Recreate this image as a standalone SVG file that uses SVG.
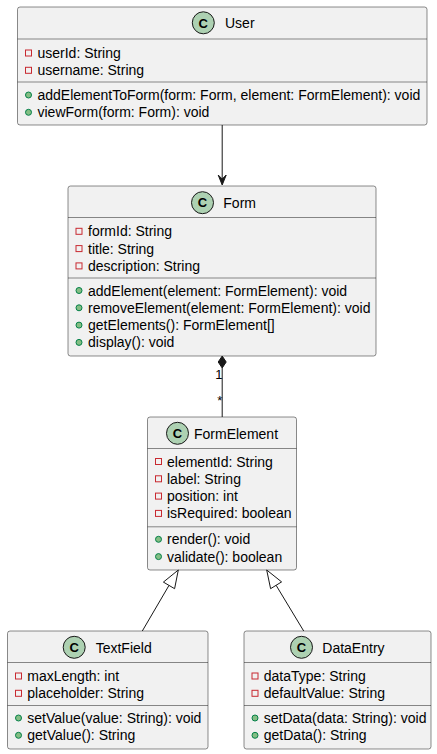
<svg xmlns="http://www.w3.org/2000/svg" width="437" height="754" viewBox="0 0 437 754">
<style>
.box{fill:#F1F1F1;stroke:#181818;stroke-width:0.5}
.sep{stroke:#181818;stroke-width:0.5}
.ci{fill:#ADD1B2;stroke:#181818;stroke-width:1}
.cl{font-family:"Liberation Sans",Arial,sans-serif;font-size:13px;font-weight:bold;fill:#000;text-anchor:middle}
.nm{font-family:"Liberation Sans",Arial,sans-serif;font-size:14px;fill:#000}
.t{font-family:"Liberation Sans",Arial,sans-serif;font-size:14px;fill:#000}
.pv{fill:none;stroke:#C82930;stroke-width:1}
.pb{fill:#84BE84;stroke:#038048;stroke-width:1}
.ln{stroke:#181818;stroke-width:1;fill:none}
.lb{font-family:"Liberation Sans",Arial,sans-serif;font-size:13px;fill:#000}
</style>
<g id="User">
<rect class="box" x="17.5" y="7" width="409.5" height="118" rx="2.5"/>
<circle class="ci" cx="203.3" cy="22.8" r="11"/>
<text class="cl" x="203.3" y="27.5">C</text>
<text class="nm" x="225" y="28.3">User</text>
<line class="sep" x1="17.5" y1="39" x2="427" y2="39"/>
<rect class="pv" x="25.5" y="50" width="6" height="6"/><text class="t" x="37.5" y="58">userId: String</text>
<rect class="pv" x="25.5" y="67.3" width="6" height="6"/><text class="t" x="37.5" y="75.3">username: String</text>
<line class="sep" x1="17.5" y1="82" x2="427" y2="82"/>
<circle class="pb" cx="28.5" cy="95" r="3"/><text class="t" x="37.5" y="100">addElementToForm(form: Form, element: FormElement): void</text>
<circle class="pb" cx="28.5" cy="112.3" r="3"/><text class="t" x="37.5" y="117.3">viewForm(form: Form): void</text>
</g>
<g id="Form">
<rect class="box" x="68" y="186" width="308" height="170" rx="2.5"/>
<circle class="ci" cx="202.5" cy="202.7" r="11"/>
<text class="cl" x="202.5" y="207.4">C</text>
<text class="nm" x="223.3" y="208">Form</text>
<line class="sep" x1="68" y1="217.5" x2="376" y2="217.5"/>
<rect class="pv" x="76" y="228.3" width="6" height="6"/><text class="t" x="88" y="236.3">formId: String</text>
<rect class="pv" x="76" y="245.6" width="6" height="6"/><text class="t" x="88" y="253.6">title: String</text>
<rect class="pv" x="76" y="262.9" width="6" height="6"/><text class="t" x="88" y="270.9">description: String</text>
<line class="sep" x1="68" y1="278" x2="376" y2="278"/>
<circle class="pb" cx="79" cy="290.5" r="3"/><text class="t" x="88" y="295.5">addElement(element: FormElement): void</text>
<circle class="pb" cx="79" cy="307.8" r="3"/><text class="t" x="88" y="312.8">removeElement(element: FormElement): void</text>
<circle class="pb" cx="79" cy="325.1" r="3"/><text class="t" x="88" y="330.1">getElements(): FormElement[]</text>
<circle class="pb" cx="79" cy="342.4" r="3"/><text class="t" x="88" y="347.4">display(): void</text>
</g>
<g id="FormElement">
<rect class="box" x="147.5" y="417" width="149" height="153" rx="2.5"/>
<circle class="ci" cx="177.5" cy="433.3" r="11"/>
<text class="cl" x="177.5" y="438">C</text>
<text class="nm" x="194" y="438.5">FormElement</text>
<line class="sep" x1="147.5" y1="448.5" x2="296.5" y2="448.5"/>
<rect class="pv" x="155.5" y="458.5" width="6" height="6"/><text class="t" x="167" y="466.5">elementId: String</text>
<rect class="pv" x="155.5" y="475.8" width="6" height="6"/><text class="t" x="167" y="483.8">label: String</text>
<rect class="pv" x="155.5" y="493.1" width="6" height="6"/><text class="t" x="167" y="501.1">position: int</text>
<rect class="pv" x="155.5" y="510.4" width="6" height="6"/><text class="t" x="167" y="518.4">isRequired: boolean</text>
<line class="sep" x1="147.5" y1="526.8" x2="296.5" y2="526.8"/>
<circle class="pb" cx="158.5" cy="539.3" r="3"/><text class="t" x="167" y="544.3">render(): void</text>
<circle class="pb" cx="158.5" cy="556.6" r="3"/><text class="t" x="167" y="561.6">validate(): boolean</text>
</g>
<g id="TextField">
<rect class="box" x="7.5" y="631" width="200.5" height="118" rx="2.5"/>
<circle class="ci" cx="74.2" cy="647.3" r="11"/>
<text class="cl" x="74.2" y="652">C</text>
<text class="nm" x="95.7" y="652.5">TextField</text>
<line class="sep" x1="7.5" y1="662.5" x2="208" y2="662.5"/>
<rect class="pv" x="15.5" y="673" width="6" height="6"/><text class="t" x="27.3" y="681">maxLength: int</text>
<rect class="pv" x="15.5" y="690.3" width="6" height="6"/><text class="t" x="27.3" y="698.3">placeholder: String</text>
<line class="sep" x1="7.5" y1="705.5" x2="208" y2="705.5"/>
<circle class="pb" cx="18.5" cy="718" r="3"/><text class="t" x="27.3" y="723">setValue(value: String): void</text>
<circle class="pb" cx="18.5" cy="735.3" r="3"/><text class="t" x="27.3" y="740.3">getValue(): String</text>
</g>
<g id="DataEntry">
<rect class="box" x="244" y="631" width="187" height="118" rx="2.5"/>
<circle class="ci" cx="301.5" cy="647.3" r="11"/>
<text class="cl" x="301.5" y="652">C</text>
<text class="nm" x="322.3" y="652.5">DataEntry</text>
<line class="sep" x1="244" y1="662.5" x2="431" y2="662.5"/>
<rect class="pv" x="252" y="673" width="6" height="6"/><text class="t" x="263.8" y="681">dataType: String</text>
<rect class="pv" x="252" y="690.3" width="6" height="6"/><text class="t" x="263.8" y="698.3">defaultValue: String</text>
<line class="sep" x1="244" y1="705.5" x2="431" y2="705.5"/>
<circle class="pb" cx="255" cy="718" r="3"/><text class="t" x="263.8" y="723">setData(data: String): void</text>
<circle class="pb" cx="255" cy="735.3" r="3"/><text class="t" x="263.8" y="740.3">getData(): String</text>
</g>
<g id="connectors">
<line class="ln" x1="222.2" y1="125" x2="222.2" y2="183"/>
<polygon points="222.2,185 218.2,175 222.2,179 226.2,175" fill="#181818" stroke="#181818" stroke-width="1"/>
<line class="ln" x1="222.2" y1="368" x2="222.2" y2="417"/>
<polygon points="222.2,356 218.2,362 222.2,368 226.2,362" fill="#181818" stroke="#181818" stroke-width="1"/>
<text class="lb" x="215.3" y="378.5">1</text>
<text class="lb" x="217.3" y="405">*</text>
<line class="ln" x1="169" y1="585.4" x2="142.3" y2="631"/>
<polygon class="ln" points="178.3,570 174.6,588.7 163.4,582.1"/>
<line class="ln" x1="276.1" y1="585.3" x2="303.7" y2="631"/>
<polygon class="ln" points="266.7,570 281.6,581.9 270.6,588.7"/>
</g>
</svg>
